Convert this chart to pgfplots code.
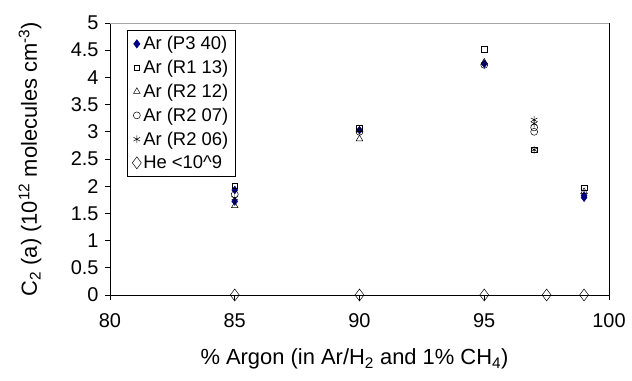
\documentclass[border=0pt]{standalone}
\usepackage{fontspec}
\setmainfont{Liberation Sans}
\usepackage{pgfplots}
\pgfplotsset{compat=1.18}
\definecolor{navy}{RGB}{0,0,128}
\begin{document}
\begin{tikzpicture}
\begin{axis}[
  scale only axis, width=499bp, height=272bp,
  xmin=80, xmax=100, ymin=0, ymax=5,
  xtick={80,85,...,100}, ytick={0,0.5,...,5},
  yticklabel style={/pgf/number format/fixed, /pgf/number format/precision=1, xshift=-3bp},
  xticklabel style={yshift=-10bp},
  /pgf/number format/assume math mode=true,
  tick label style={font=\fontsize{20}{22}\selectfont},
  label style={font=\fontsize{22}{25}\selectfont},
  tick align=outside, xtick pos=bottom, ytick pos=left,
  major tick length=5bp,
  axis line style={black, line width=0.8pt},
  tick style={black, line width=0.8pt},
  xlabel={\% Argon (in Ar/H\textsubscript{2} and 1\% CH\textsubscript{4})},
  ylabel={C\textsubscript{2} (a) (10\textsuperscript{12} molecules cm\textsuperscript{-3})},
  xlabel style={at={(axis description cs:0.49,-0.235)}, anchor=center},
  ylabel style={at={(axis description cs:-0.16,0.5)}, anchor=center},
  legend style={at={(rel axis cs:0.034,0.974)}, anchor=north west, draw=black, line width=0.8pt,
    font=\fontsize{18.5}{20}\selectfont, row sep=5bp, inner xsep=5bp, inner ysep=4bp},
  legend cell align=left,
  legend image code/.code={\draw[mark repeat=2,mark phase=2] plot coordinates {(0cm,0cm) (0.2cm,0cm) (0.4cm,0cm)};},
  clip=false,
]
\addplot[only marks, mark=diamond*, mark size=4pt, color=navy, fill=navy]
  coordinates {(85,1.93) (85,1.72) (90,3.03) (95,4.25) (99,1.79) (99,1.83)};
\addlegendentry{Ar (P3 40)}
\addplot[only marks, mark=square, mark size=2.8pt, black, line width=0.5pt]
  coordinates {(85,2.01) (90,3.07) (95,4.52) (97,2.67) (99,1.97)};
\addlegendentry{Ar (R1 13)}
\addplot[only marks, mark=triangle, mark size=3.8pt, black, line width=0.5pt]
  coordinates {(85,1.64) (90,2.87) (95,4.28) (99,1.90)};
\addlegendentry{Ar (R2 12)}
\addplot[only marks, mark=o, mark size=3.5pt, black, line width=0.5pt]
  coordinates {(85,1.85) (90,3.0) (95,4.23) (97,3.08) (97,3.0)};
\addlegendentry{Ar (R2 07)}
\addplot[only marks, mark=asterisk, mark size=3.8pt, black, line width=0.5pt]
  coordinates {(85,1.78) (90,3.02) (97,3.22) (97,3.15) (97,2.67)};
\addlegendentry{Ar (R2 06)}
\addplot[only marks, mark=diamond, mark size=6pt, black, fill=white, line width=0.5pt]
  coordinates {(85,0) (90,0) (95,0) (97.5,0) (99,0)};
\addlegendentry{He <10\^{}9}
\draw[gray!70, line width=0.8pt] (rel axis cs:0,1) -- (rel axis cs:1,1);
\draw[black, line width=0.8pt] (rel axis cs:1,0) -- (rel axis cs:1,1);
\end{axis}
\path[use as bounding box] (-110bp,-86bp) rectangle (522bp,295bp);
\end{tikzpicture}
\end{document}
